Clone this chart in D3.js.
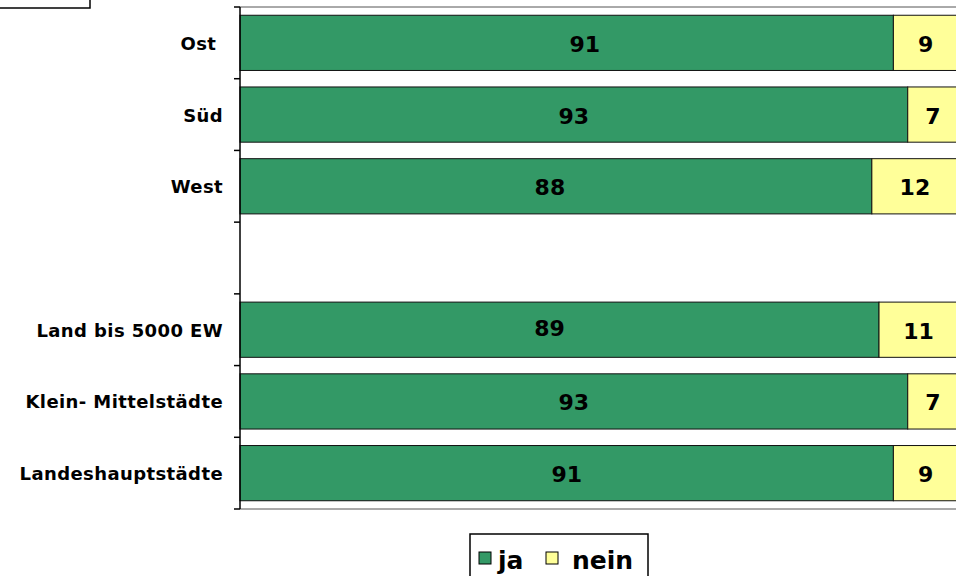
<!DOCTYPE html>
<html><head><meta charset="utf-8">
<script src="https://cdn.jsdelivr.net/npm/d3@7"></script>
<style>body{margin:0;background:#fff}svg{display:block}text{white-space:pre}</style>
</head><body>
<svg id="c" width="956" height="576"></svg>
<script>
const categories = ["Ost ","Süd","West","","Land bis 5000 EW","Klein- Mittelstädte","Landeshauptstädte"];
const ja   = [91,93,88,null,89,93,91];
const nein = [9,7,12,null,11,7,9];
const seriesNames = ["ja","nein"];
const colors = ["#339966","#FFFF99"];

// manual label nudges seen in the original (layout only)
const jaNudge = {"Ost ":[18,0],"West":[-6,0],"Land bis 5000 EW":[-10,-3]};

const svg = d3.select("#c");
const font = "'DejaVu Sans', Verdana, sans-serif";
const m = {left:240, top:7, bottom:509};
const x = d3.scaleLinear().domain([0,100]).range([240,958]);
const y = d3.scaleBand().domain(d3.range(categories.length)).range([m.top,m.bottom]).paddingInner(0.23).paddingOuter(0.115);

// top-left partial box
svg.append("rect").attr("x",-2).attr("y",-10).attr("width",92).attr("height",18)
  .attr("fill","#fff").attr("stroke","#000").attr("stroke-width",1.5);

// plot borders top/bottom
svg.append("line").attr("x1",240).attr("x2",956).attr("y1",m.top).attr("y2",m.top).attr("stroke","#555").attr("stroke-width",1);
svg.append("line").attr("x1",240).attr("x2",956).attr("y1",m.bottom).attr("y2",m.bottom).attr("stroke","#555").attr("stroke-width",1);

const data = categories.map((c,i)=>({c,i,ja:ja[i],nein:nein[i]})).filter(d=>d.ja!=null);

const g = svg.append("g");
g.selectAll("rect.ja").data(data).join("rect")
  .attr("x",x(0)).attr("y",d=>y(d.i)).attr("width",d=>x(d.ja)-x(0)).attr("height",y.bandwidth())
  .attr("fill",colors[0]).attr("stroke","#111").attr("stroke-width",1);
g.selectAll("rect.nein").data(data).join("rect")
  .attr("x",d=>x(d.ja)).attr("y",d=>y(d.i)).attr("width",d=>x(d.ja+d.nein)-x(d.ja)).attr("height",y.bandwidth())
  .attr("fill",colors[1]).attr("stroke","#111").attr("stroke-width",1);

const nud = d => jaNudge[d.c] || [0,0];
g.selectAll("text.vja").data(data).join("text")
  .attr("x",d=>(x(0)+x(d.ja))/2 + nud(d)[0]).attr("y",d=>y(d.i)+y.bandwidth()/2+9 + nud(d)[1])
  .attr("text-anchor","middle").attr("font-family",font).attr("font-weight","bold").attr("font-size",22)
  .text(d=>d.ja);
g.selectAll("text.vnein").data(data).join("text")
  .attr("x",d=>(x(d.ja)+x(d.ja+d.nein))/2).attr("y",d=>y(d.i)+y.bandwidth()/2+9)
  .attr("text-anchor","middle").attr("font-family",font).attr("font-weight","bold").attr("font-size",22)
  .text(d=>d.nein);

// y axis
const step = (m.bottom-m.top)/categories.length;
const ax = svg.append("g");
ax.append("line").attr("x1",240).attr("x2",240).attr("y1",m.top).attr("y2",m.bottom).attr("stroke","#000").attr("stroke-width",1.5);
ax.selectAll("line.t").data(d3.range(categories.length+1)).join("line")
  .attr("x1",234).attr("x2",240).attr("y1",i=>m.top+i*step).attr("y2",i=>m.top+i*step).attr("stroke","#000").attr("stroke-width",1.5);
ax.selectAll("text").data(categories).join("text")
  .attr("x",223).attr("y",(d,i)=>y(i)+y.bandwidth()/2+7)
  .attr("text-anchor","end").attr("font-family",font).attr("font-weight","bold").attr("font-size",18)
  .attr("letter-spacing",0.4)
  .text(d=>d);

// legend
const lg = svg.append("g");
lg.append("rect").attr("x",470).attr("y",534).attr("width",178).attr("height",50).attr("fill","#fff").attr("stroke","#000").attr("stroke-width",1.5);
const li = [{n:seriesNames[0],c:colors[0],sx:479,tx:498},{n:seriesNames[1],c:colors[1],sx:546,tx:572}];
lg.selectAll("rect.s").data(li).join("rect").attr("x",d=>d.sx).attr("y",552).attr("width",12).attr("height",12)
  .attr("fill",d=>d.c).attr("stroke","#000").attr("stroke-width",1);
lg.selectAll("text").data(li).join("text").attr("x",d=>d.tx).attr("y",569)
  .attr("font-family",font).attr("font-weight","bold").attr("font-size",25).text(d=>d.n);
</script>
</body></html>
